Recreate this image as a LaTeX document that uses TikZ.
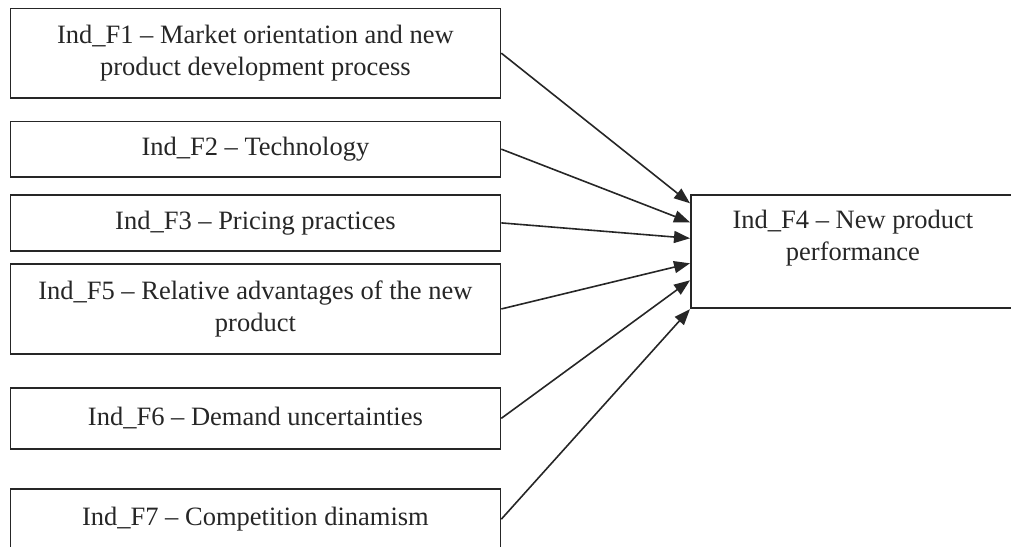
\documentclass[tikz,border=0pt]{standalone}
\usepackage{fontspec}
\setmainfont{Liberation Serif}
\usetikzlibrary{arrows.meta,calc}
\begin{document}
\begin{tikzpicture}[x=1pt,y=-1pt,
  box/.style={draw=black!85,line width=1.8pt,rectangle,inner sep=0pt,anchor=north west,
    align=center,font=\fontsize{26.5}{32}\selectfont,text=black!85},
  conn/.style={draw=black!85,line width=1.6pt,-{Triangle[length=16pt,width=12pt]}}]
\useasboundingbox (0,0) rectangle (1011,546);
\clip (0,0) rectangle (1011,546);
\node[box,minimum width=490pt,minimum height=89.5pt] (f1) at (9.5,7.5)
  {Ind\_F1 -- Market orientation and new\\product development process};
\node[box,minimum width=490pt,minimum height=55.5pt] (f2) at (9.5,120.5)
  {Ind\_F2 -- Technology};
\node[box,minimum width=490pt,minimum height=56pt] (f3) at (9.5,194)
  {Ind\_F3 -- Pricing practices};
\node[box,minimum width=490pt,minimum height=89.5pt] (f5) at (9.5,263.3)
  {Ind\_F5 -- Relative advantages of the new\\product};
\node[box,minimum width=490pt,minimum height=61.5pt] (f6) at (9.5,386.7)
  {Ind\_F6 -- Demand uncertainties};
\node[box,minimum width=490pt,minimum height=60pt] (f7) at (9.5,488.3)
  {Ind\_F7 -- Competition dinamism};
\node[box,minimum width=324pt,minimum height=113pt] (f4) at (690,194.3) {};
\node[box,draw=none,anchor=center] (f4t) at ($(f4.north)+(0,43.5)$)
  {Ind\_F4 -- New product\\performance};
\coordinate (t1) at ($(f4.north west)+(0,9)$);
\coordinate (t2) at ($(f4.north west)+(0,28)$);
\coordinate (t3) at ($(f4.north west)+(0,44)$);
\coordinate (t5) at ($(f4.north west)+(0,69)$);
\coordinate (t6) at ($(f4.north west)+(0,86)$);
\coordinate (t7) at (f4.south west);
\draw[conn] (f1.east) -- (t1);
\draw[conn] (f2.east) -- (t2);
\draw[conn] (f3.east) -- (t3);
\draw[conn] (f5.east) -- (t5);
\draw[conn] (f6.east) -- (t6);
\draw[conn] (f7.east) -- (t7);
\end{tikzpicture}
\end{document}
